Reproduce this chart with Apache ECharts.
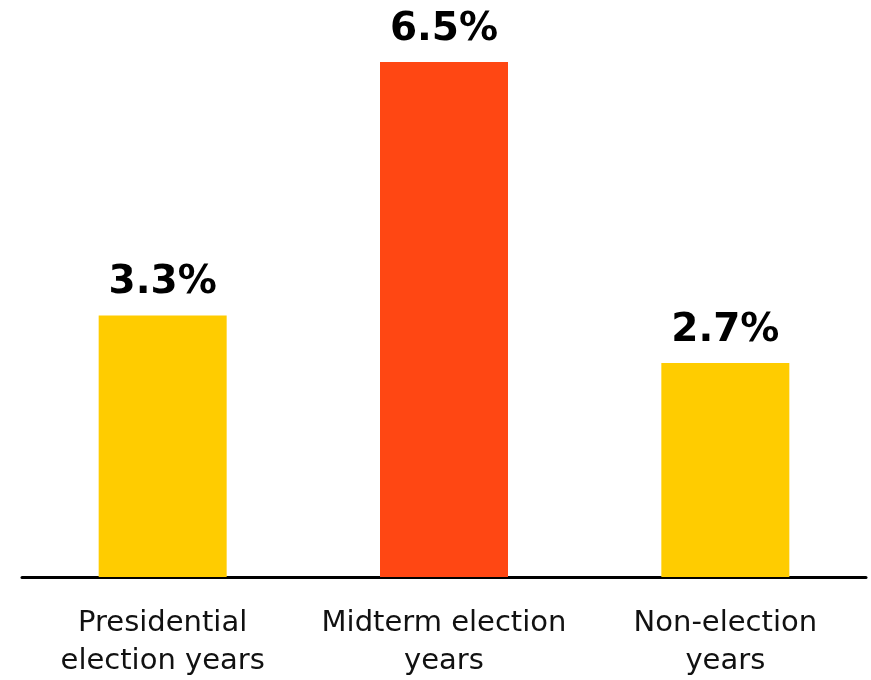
<!DOCTYPE html>
<html><head><meta charset="utf-8">
<script src="https://cdn.jsdelivr.net/npm/echarts@6/dist/echarts.min.js"></script>
<style>html,body{margin:0;padding:0;background:#fff}#c{width:871px;height:680px}</style>
</head><body><div id="c"></div>
<script>
const categories = ['Presidential\nelection years', 'Midterm election\nyears', 'Non-election\nyears'];
const values = [3.3, 6.5, 2.7];
const colors = ['#FFCC00', '#FF4713', '#FFCC00'];
const chart = echarts.init(document.getElementById('c'));
chart.setOption({
  animation: false,
  grid: {left: 22, right: 5, top: 62, bottom: 103, containLabel: false},
  xAxis: {
    type: 'category', data: categories,
    axisLine: {lineStyle: {color: '#000', width: 3}},
    axisTick: {show: false},
    axisLabel: {color: '#111', fontFamily: 'DejaVu Sans', fontSize: 29, lineHeight: 38, margin: 27, interval: 0}
  },
  yAxis: {type: 'value', min: 0, max: 6.5, show: false, splitLine: {show: false}},
  series: [{
    type: 'bar', barWidth: 128,
    data: values.map((v, i) => ({value: v, itemStyle: {color: colors[i]}})),
    label: {show: true, position: 'top', distance: 13, formatter: p => p.value.toFixed(1) + '%',
      color: '#000', fontFamily: 'DejaVu Sans', fontWeight: 'bold', fontSize: 39}
  }]
});
</script></body></html>
